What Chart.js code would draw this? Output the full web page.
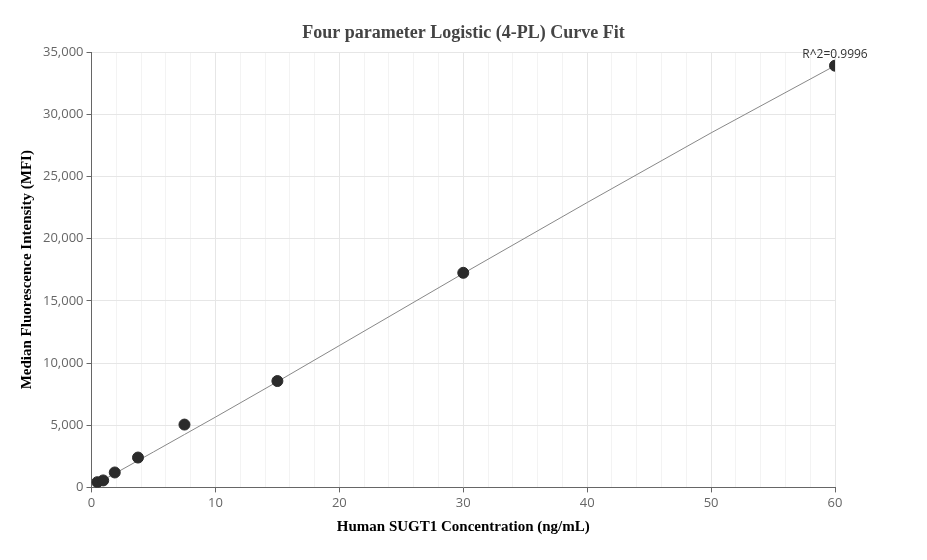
<!DOCTYPE html>
<html><head><script src="https://cdn.jsdelivr.net/npm/chart.js"></script>
<style>body{margin:0;background:#fff}#w{width:927px;height:560px}</style></head>
<body><div id="w"><canvas id="c"></canvas></div>
<script>
const concX = [0.47, 0.94, 1.875, 3.75, 7.5, 15, 30, 60];
const mfiY = [420, 560, 1200, 2400, 5050, 8550, 17250, 33900];
const fitX = [0.47, 2, 5, 7.5, 10, 15, 20, 30, 40, 50, 60];
const fitY = [330, 1180, 2850, 4250, 5650, 8500, 11400, 17200, 22900, 28500, 33900];
const r2Label = 'R^2=0.9996';
const titleText = 'Four parameter Logistic (4-PL) Curve Fit';
const serif = '"Liberation Serif", "Times New Roman", serif';
const sans = '"Open Sans", "Noto Sans", sans-serif';
const r2Plugin = {id:'r2', afterDatasetsDraw(ch){
  const {ctx, scales:{x,y}} = ch;
  ctx.save(); ctx.font = '12px '+sans; ctx.fillStyle='#333'; ctx.textAlign='center'; ctx.textBaseline='bottom';
  ctx.fillText(r2Label, x.getPixelForValue(60), y.getPixelForValue(33900)-5);
  ctx.font = 'bold 18px '+serif; ctx.fillStyle='#444'; ctx.textBaseline='middle';
  ctx.fillText(titleText, ch.width/2, 33);
  ctx.restore();
}};
new Chart(document.getElementById('c'), {
  type:'scatter',
  data:{datasets:[
    {data: fitX.map((v,i)=>({x:v,y:fitY[i]})), showLine:true, borderColor:'#888', borderWidth:1, pointRadius:0, order:2},
    {data: concX.map((v,i)=>({x:v,y:mfiY[i]})), backgroundColor:'#2b2b2b', borderColor:'#2b2b2b', pointRadius:5.5, order:1}
  ]},
  plugins:[r2Plugin],
  options:{responsive:true, maintainAspectRatio:false, animation:false,
    layout:{padding:{left:14,right:92,top:52,bottom:20}},
    plugins:{legend:{display:false}, tooltip:{enabled:false}, title:{display:false}},
    scales:{
      x:{type:'linear', min:0, max:60, ticks:{stepSize:2, autoSkip:false, color:'#666', font:{family:sans,size:13}, callback:v=>v%10===0?v:''},
        grid:{color:c=>c.tick&&c.tick.value%10===0?'#e6e6e6':'#f3f3f3', drawTicks:true, tickColor:c=>c.tick&&c.tick.value%10===0?'#666':'transparent', tickLength:5},
        border:{color:'#666'},
        title:{display:true, text:'Human SUGT1 Concentration (ng/mL)', color:'#000', font:{family:serif,size:15,weight:'bold'}}},
      y:{min:0, max:35000, ticks:{stepSize:5000, color:'#666', font:{family:sans,size:13}, callback:v=>v.toLocaleString('en-US')},
        grid:{color:'#e6e6e6', tickLength:5, tickColor:'#666'}, border:{color:'#666'},
        title:{display:true, text:'Median Fluorescence Intensity (MFI)', color:'#000', font:{family:serif,size:15,weight:'bold'}}}
    }}
});
</script></body></html>
